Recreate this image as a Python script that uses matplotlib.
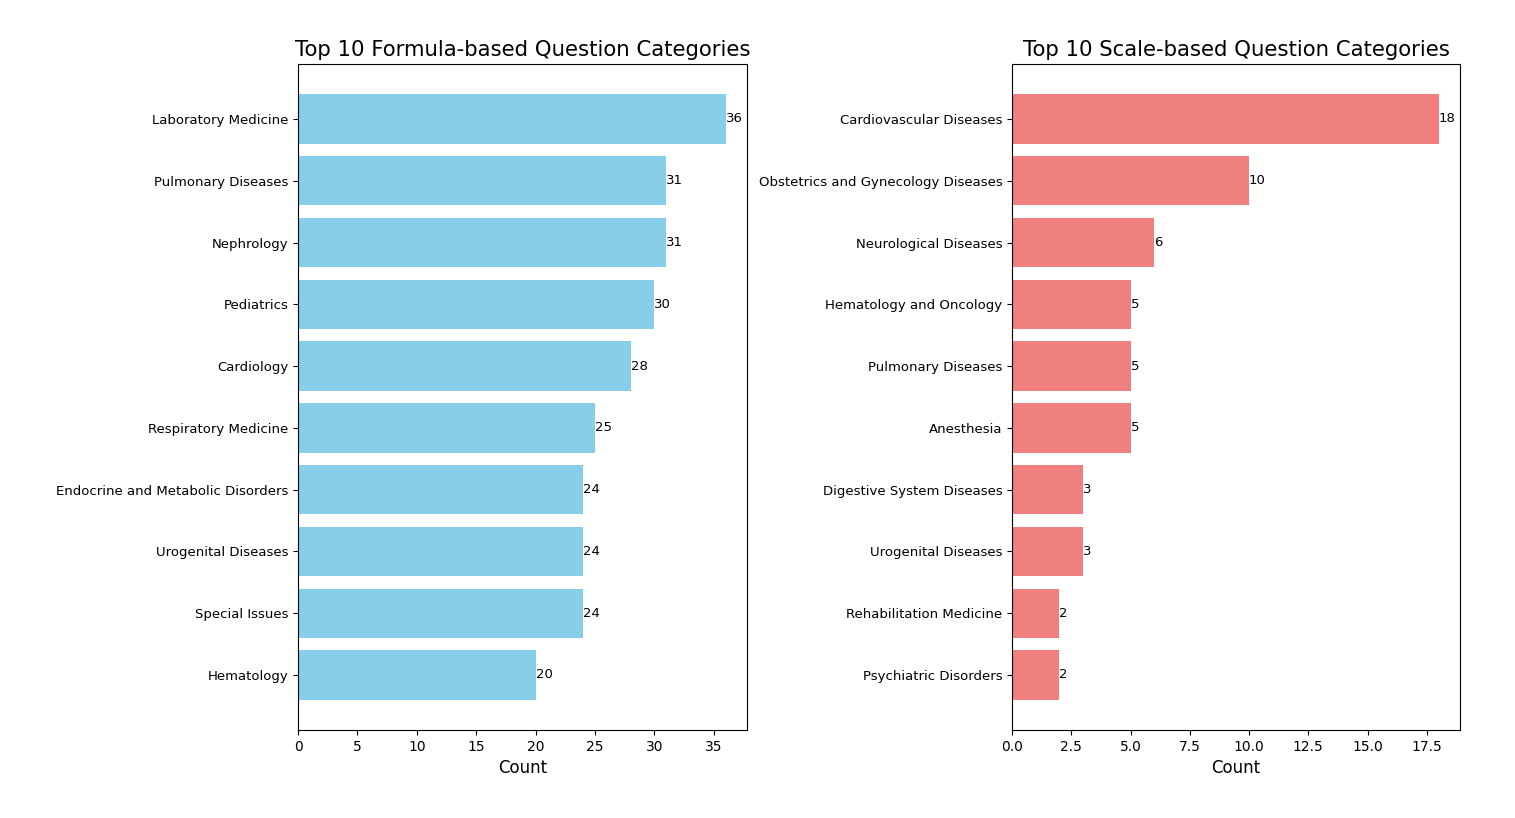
import matplotlib
matplotlib.use('Agg')
import matplotlib.pyplot as plt

# Data
formula_categories = ['Laboratory Medicine', 'Pulmonary Diseases', 'Nephrology',
                      'Pediatrics', 'Cardiology', 'Respiratory Medicine',
                      'Endocrine and Metabolic Disorders', 'Urogenital Diseases',
                      'Special Issues', 'Hematology']
formula_counts = [36, 31, 31, 30, 28, 25, 24, 24, 24, 20]

scale_categories = ['Cardiovascular Diseases', 'Obstetrics and Gynecology Diseases',
                    'Neurological Diseases', 'Hematology and Oncology',
                    'Pulmonary Diseases', 'Anesthesia', 'Digestive System Diseases',
                    'Urogenital Diseases', 'Rehabilitation Medicine',
                    'Psychiatric Disorders']
scale_counts = [18, 10, 6, 5, 5, 5, 3, 3, 2, 2]


def draw_panel(ax, categories, counts, color, title):
    bars = ax.barh(categories, counts, color=color)
    ax.invert_yaxis()
    for bar, val in zip(bars, counts):
        ax.text(bar.get_width(), bar.get_y() + bar.get_height() / 2, str(val),
                va='center', ha='left', fontsize=9.5)
    ax.set_title(title, fontsize=15.3)
    ax.set_xlabel('Count', fontsize=12)
    ax.tick_params(axis='y', labelsize=9.5)


fig = plt.figure(figsize=(15.15, 8.18), dpi=100)
ax1 = fig.add_axes([0.1967, 0.1076, 0.2964, 0.8142])
ax2 = fig.add_axes([0.668, 0.1076, 0.2957, 0.8142])

draw_panel(ax1, formula_categories, formula_counts, 'skyblue',
           'Top 10 Formula-based Question Categories')
draw_panel(ax2, scale_categories, scale_counts, 'lightcoral',
           'Top 10 Scale-based Question Categories')

fig.savefig('out.png', dpi=100)
